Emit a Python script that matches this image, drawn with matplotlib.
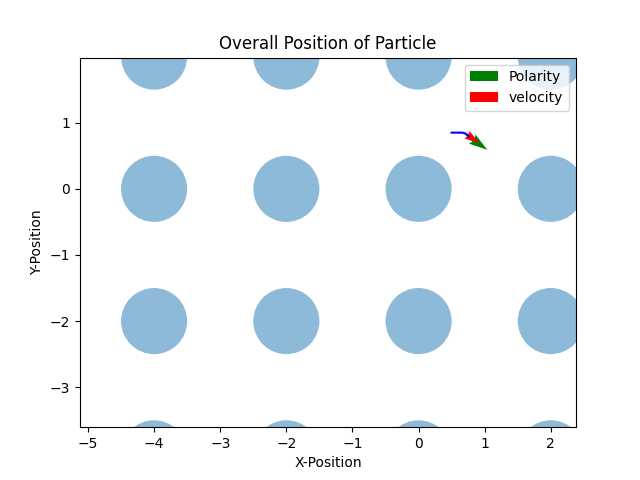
import numpy as np
import matplotlib
matplotlib.use("Agg")
import matplotlib.pyplot as plt
from matplotlib.patches import Circle

# obstacle grid
obs_x = [-4, -2, 0, 2]
obs_y = [2, 0, -2, -4]
obs_r = 0.5

# particle trajectory
traj_x = [0.50, 0.58, 0.66, 0.70, 0.73, 0.76]
traj_y = [0.85, 0.85, 0.85, 0.84, 0.82, 0.79]

# final arrows
pol = (0.28, -0.20)
vel = (0.19, -0.13)

fig, ax = plt.subplots(figsize=(6.4, 4.8))

for cx in obs_x:
    for cy in obs_y:
        ax.add_patch(Circle((cx, cy), obs_r, color="C0", alpha=0.5, lw=0))

ax.plot(traj_x, traj_y, color="blue")
ax.quiver(traj_x[-1], traj_y[-1], pol[0], pol[1], color="green",
          angles="xy", scale_units="xy", scale=1, label="Polarity")
ax.quiver(traj_x[-1] - 0.03, traj_y[-1] + 0.03, vel[0], vel[1], color="red",
          angles="xy", scale_units="xy", scale=1, width=0.013,
          label="velocity")

ax.set_xlim(-5.12, 2.38)
ax.set_ylim(-3.605, 1.985)
ax.set_aspect("equal")
ax.set_xlabel("X-Position")
ax.set_ylabel("Y-Position")
ax.set_title("Overall Position of Particle")
ax.legend(loc="upper right")

plt.savefig("out.png", dpi=100)
